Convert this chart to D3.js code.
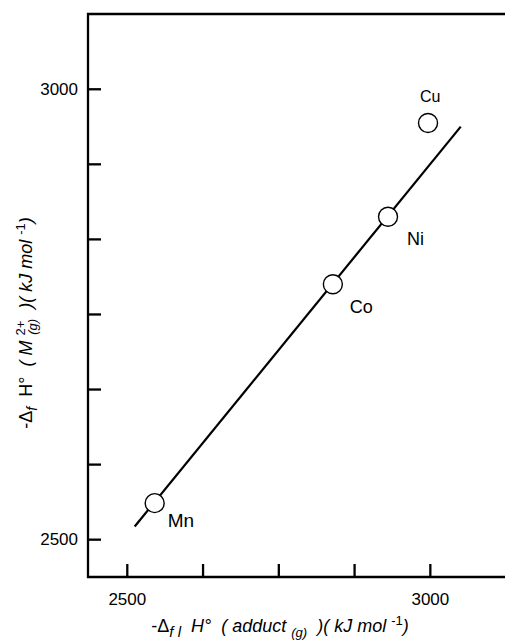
<!DOCTYPE html>
<html>
<head>
<meta charset="utf-8">
<script src="https://cdn.jsdelivr.net/npm/d3@7"></script>
<style>
	body { margin: 0; background: #fff; }
	svg { display: block; font-family: 'Liberation Sans', Arial, sans-serif; }
</style>
</head>
<body>
<div id="chart"></div>
<script>
// data
const metals = ['Mn', 'Co', 'Ni', 'Cu'];
const adductH = [2546, 2840, 2931, 2997];
const ionH = [2540, 2783, 2858, 2962];
// fitted line end points
const fitX = [2513, 3051];
const fitY = [2514, 2958];
const xTickValues = [2500, 2625, 2750, 2875, 3000];
const xTickLabels = ['2500', '', '', '', '3000'];
const yTickValues = [2500, 2583.33, 2666.67, 2750, 2833.33, 2916.67, 3000];
const yTickLabels = ['2500', '', '', '', '', '', '3000'];

const width = 505, height = 643;
const margin = { top: 14, right: 0, bottom: 66, left: 88 };

const svg = d3.select('#chart').append('svg')
	.attr('width', width)
	.attr('height', height);

const x = d3.scaleLinear()
	.domain([2436, 3124])
	.range([margin.left, width - margin.right]);
const y = d3.scaleLinear()
	.domain([2458, 3083])
	.range([height - margin.bottom, margin.top]);

// frame: top, left and bottom lines (right side runs off the page)
svg.append('path')
	.attr('d', `M${width + 10},${margin.top}H${margin.left}V${height - margin.bottom}H${width + 10}`)
	.attr('fill', 'none')
	.attr('stroke', '#000')
	.attr('stroke-width', 2.3);

const xAxis = d3.axisBottom(x)
	.tickValues(xTickValues)
	.tickSize(-13)
	.tickPadding(16)
	.tickFormat((d, i) => xTickLabels[i]);
const xAxisG = svg.append('g')
	.attr('transform', `translate(0,${height - margin.bottom})`)
	.call(xAxis);

const yAxis = d3.axisLeft(y)
	.tickValues(yTickValues)
	.tickSize(-13)
	.tickPadding(10)
	.tickFormat((d, i) => yTickLabels[i]);
const yAxisG = svg.append('g')
	.attr('transform', `translate(${margin.left},0)`)
	.call(yAxis);

[xAxisG, yAxisG].forEach((g) => {
	g.select('.domain').remove();
	g.selectAll('.tick line').attr('stroke', '#000').attr('stroke-width', 2.3);
	g.selectAll('.tick text')
		.attr('fill', '#000')
		.style('font-size', '17px')
		.style('font-family', "'Liberation Sans', Arial, sans-serif");
});

// regression line
svg.append('line')
	.attr('x1', x(fitX[0]))
	.attr('y1', y(fitY[0]))
	.attr('x2', x(fitX[1]))
	.attr('y2', y(fitY[1]))
	.attr('stroke', '#000')
	.attr('stroke-width', 2.2);

const points = metals.map((m, i) => ({ m, x: adductH[i], y: ionH[i] }));

svg.selectAll('.pt')
	.data(points)
	.join('circle')
	.attr('class', 'pt')
	.attr('cx', (d) => x(d.x))
	.attr('cy', (d) => y(d.y))
	.attr('r', 9.5)
	.attr('fill', '#fff')
	.attr('stroke', '#000')
	.attr('stroke-width', 1.4);

// label offsets relative to each point (left edge, baseline, size)
const labelOffset = { Mn: [13, 24, 19], Co: [17, 29, 18], Ni: [19, 28, 18], Cu: [-8, -21, 16] };
svg.selectAll('.lbl')
	.data(points)
	.join('text')
	.attr('class', 'lbl')
	.attr('x', (d) => x(d.x) + labelOffset[d.m][0])
	.attr('y', (d) => y(d.y) + labelOffset[d.m][1])
	.style('font-size', (d) => labelOffset[d.m][2] + 'px')
	.text((d) => d.m);

// x axis title
const xt = svg.append('text')
	.attr('x', 280)
	.attr('y', 632)
	.attr('text-anchor', 'middle')
	.style('font-size', '18px')
	.attr('xml:space', 'preserve');
xt.append('tspan').text('-Δ');
xt.append('tspan').attr('font-style', 'italic').attr('baseline-shift', '-5').style('font-size', '15px').text('f l');
xt.append('tspan').attr('font-style', 'italic').text('  H°');
xt.append('tspan').attr('font-style', 'italic').text('  ( adduct ');
xt.append('tspan').attr('font-style', 'italic').attr('baseline-shift', '-5').style('font-size', '13px').text('(g)');
xt.append('tspan').attr('font-style', 'italic').text('  )( kJ mol ');
xt.append('tspan').attr('baseline-shift', '7').style('font-size', '13px').text('-1');
xt.append('tspan').attr('font-style', 'italic').text(')');

// y axis title (2+ and (g) stacked)
const yt = svg.append('text')
	.attr('transform', 'translate(32,323) rotate(-90)')
	.attr('text-anchor', 'middle')
	.style('font-size', '18px')
	.attr('xml:space', 'preserve');
yt.append('tspan').text('-Δ');
yt.append('tspan').attr('font-style', 'italic').attr('baseline-shift', '-5').style('font-size', '14px').text('f');
yt.append('tspan').text('  H°');
yt.append('tspan').attr('font-style', 'italic').text('  ( M ');
yt.append('tspan').attr('baseline-shift', '7').style('font-size', '13px').text('2+');
yt.append('tspan').attr('font-style', 'italic').attr('dx', -14).attr('baseline-shift', '-5').style('font-size', '13px').text('(g)');
yt.append('tspan').attr('font-style', 'italic').text('  )( kJ mol ');
yt.append('tspan').attr('baseline-shift', '7').style('font-size', '13px').text('-1');
yt.append('tspan').attr('font-style', 'italic').text(')');
</script>
</body>
</html>
